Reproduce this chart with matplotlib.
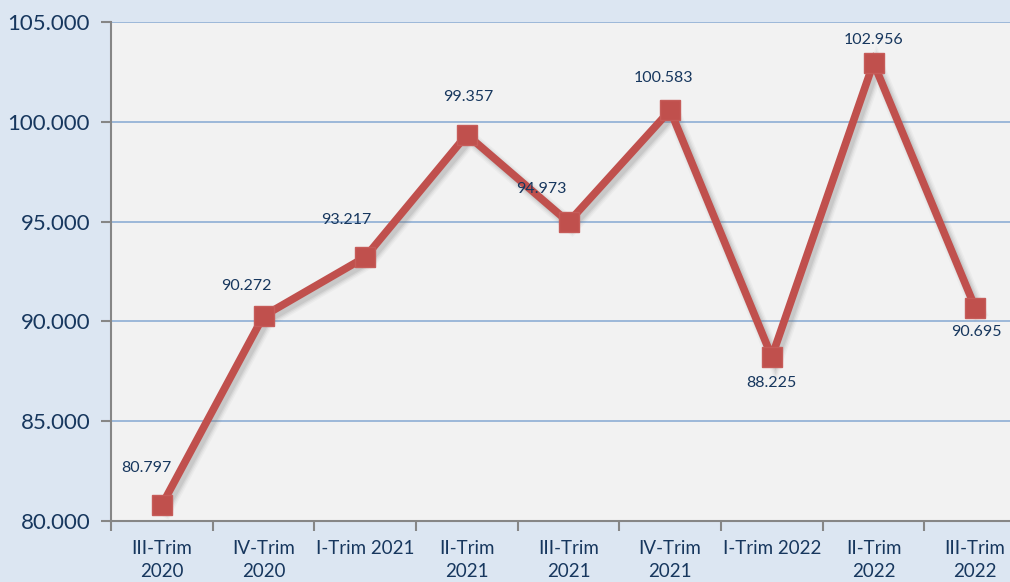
import numpy as np
import matplotlib
matplotlib.use('Agg')
import matplotlib.pyplot as plt
import matplotlib.patheffects as pe
from matplotlib.ticker import FixedLocator, FuncFormatter

# Data
categories = ['III-Trim\n2020', 'IV-Trim\n2020', 'I-Trim 2021', 'II-Trim\n2021', 'III-Trim\n2021',
              'IV-Trim\n2021', 'I-Trim 2022', 'II-Trim\n2022', 'III-Trim\n2022']
values = [80.797, 90.272, 93.217, 99.357, 94.973, 100.583, 88.225, 102.956, 90.695]
# label offsets in pixels (dx, dy) relative to each point
label_offsets = [(-15, 37), (-17, 30), (-19, 37), (1, 38), (-27, 33), (-7, 32), (0, -26), (0, 23), (1, -24)]

fig_bg = '#dce6f2'
plot_bg = '#f2f2f2'
text_col = '#17375e'
line_col = '#c0504d'

plt.rcParams['font.family'] = ['Lato', 'DejaVu Sans']

fig = plt.figure(figsize=(10.10, 5.82), dpi=100, facecolor=fig_bg)
ax = fig.add_axes([111 / 1010, 1 - 521 / 582, 915 / 1010, 499 / 582])
ax.set_facecolor(plot_bg)

x = np.arange(len(values))

# soft shadow under the line
shadow = [pe.SimpleLineShadow(offset=(2.5, -3), shadow_color='#7f7f7f', alpha=a, linewidth=w)
          for w, a in [(11, 0.06), (9, 0.08), (7, 0.12), (5, 0.15)]]
ax.plot(x, values, color='none', lw=5, zorder=2, solid_joinstyle='miter', path_effects=shadow)

ax.plot(x, values, color=line_col, lw=5.5, marker='s', ms=15, mfc=line_col, mec='#c65c59',
        solid_joinstyle='miter', zorder=3)

for xi, v, (dx, dy) in zip(x, values, label_offsets):
    ax.annotate(f'{v:.3f}', (xi, v), xytext=(dx * 0.72, dy * 0.72), textcoords='offset points',
                ha='center', va='center', fontsize=11.5, color=text_col)

ax.set_xlim(-0.5, len(values) - 0.5)
ax.set_ylim(80, 105)
ax.set_yticks(np.arange(80, 106, 5))
ax.yaxis.set_major_formatter(FuncFormatter(lambda v, p: f'{v:.3f}'))
ax.grid(axis='y', color='#95b3d7', lw=1.3)
ax.set_axisbelow(True)

ax.set_xticks(x)
ax.set_xticklabels(categories, fontsize=13.5, color=text_col, linespacing=1.4)
ax.xaxis.set_minor_locator(FixedLocator(np.arange(-0.5, len(values), 1)))
ax.tick_params(axis='x', which='major', length=0, pad=14)
ax.tick_params(axis='x', which='minor', length=7, width=1.5, color='#868686')
ax.tick_params(axis='y', length=7, width=1.5, color='#868686', labelsize=16, labelcolor=text_col, pad=8)

for s in ['top', 'right']:
    ax.spines[s].set_visible(False)
for s in ['left', 'bottom']:
    ax.spines[s].set_color('#868686')
    ax.spines[s].set_linewidth(1.5)

fig.savefig('out.png', dpi=100, facecolor=fig_bg)
